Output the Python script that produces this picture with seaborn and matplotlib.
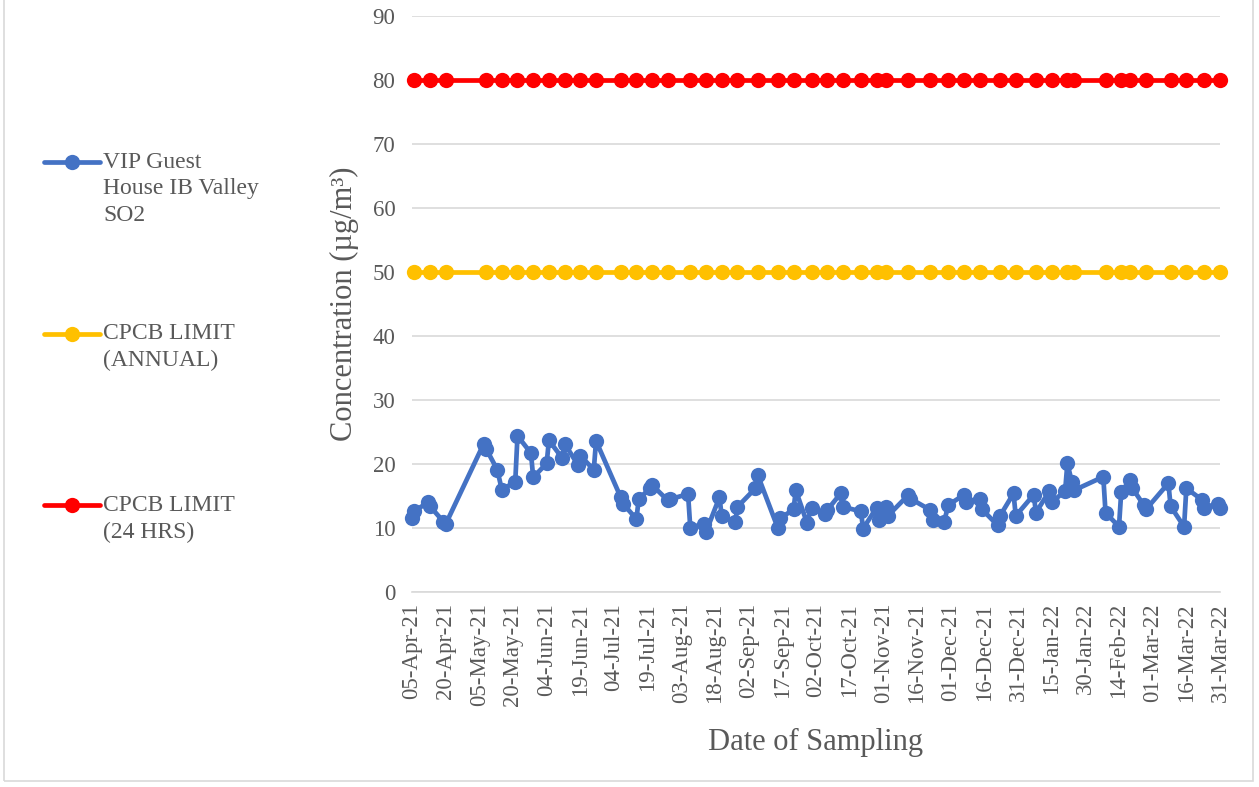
import pandas as pd
import matplotlib.pyplot as plt
import seaborn as sns
from matplotlib.lines import Line2D
from matplotlib.patches import Rectangle

# SO2 readings (µg/m³), twice a week
so2_dates = [
    "05-Apr-21", "06-Apr-21", "12-Apr-21", "13-Apr-21", "19-Apr-21", "20-Apr-21",
    "07-May-21", "08-May-21", "13-May-21", "15-May-21", "21-May-21", "22-May-21", "28-May-21", "29-May-21",
    "04-Jun-21", "05-Jun-21", "11-Jun-21", "12-Jun-21", "18-Jun-21", "19-Jun-21", "25-Jun-21", "26-Jun-21",
    "07-Jul-21", "08-Jul-21", "14-Jul-21", "15-Jul-21", "20-Jul-21", "21-Jul-21", "28-Jul-21", "29-Jul-21",
    "06-Aug-21", "07-Aug-21", "13-Aug-21", "14-Aug-21", "20-Aug-21", "21-Aug-21", "27-Aug-21", "28-Aug-21",
    "05-Sep-21", "06-Sep-21", "15-Sep-21", "16-Sep-21", "22-Sep-21", "23-Sep-21", "28-Sep-21", "30-Sep-21",
    "06-Oct-21", "07-Oct-21", "13-Oct-21", "14-Oct-21", "22-Oct-21", "23-Oct-21", "29-Oct-21", "30-Oct-21",
    "02-Nov-21", "03-Nov-21", "12-Nov-21", "13-Nov-21", "22-Nov-21", "23-Nov-21", "28-Nov-21",
    "30-Nov-21", "07-Dec-21", "08-Dec-21", "14-Dec-21", "15-Dec-21", "22-Dec-21", "23-Dec-21", "29-Dec-21", "30-Dec-21",
    "07-Jan-22", "08-Jan-22", "14-Jan-22", "15-Jan-22", "21-Jan-22", "22-Jan-22", "24-Jan-22", "25-Jan-22",
    "07-Feb-22", "08-Feb-22", "14-Feb-22", "15-Feb-22", "19-Feb-22", "20-Feb-22", "25-Feb-22", "26-Feb-22",
    "08-Mar-22", "09-Mar-22", "15-Mar-22", "16-Mar-22", "23-Mar-22", "24-Mar-22", "30-Mar-22", "31-Mar-22",
]
so2_values = [
    11.5, 12.6, 14.0, 13.4, 11.0, 10.6,
    23.2, 22.4, 19.1, 16.0, 17.2, 24.4, 21.7, 17.9,
    20.1, 23.7, 20.9, 23.2, 19.8, 21.3, 19.1, 23.6,
    14.8, 13.8, 11.4, 14.5, 16.2, 16.7, 14.3, 14.5,
    15.3, 10.0, 10.7, 9.4, 14.8, 11.8, 10.9, 13.3,
    16.2, 18.3, 10.0, 11.5, 12.9, 15.9, 10.8, 13.2,
    12.2, 12.8, 15.4, 13.3, 12.6, 9.9, 13.2, 11.3,
    13.3, 11.9, 15.1, 14.6, 12.8, 11.3, 10.9,
    13.6, 15.2, 14.1, 14.6, 12.9, 10.4, 11.9, 15.4, 11.9,
    15.2, 12.4, 15.8, 14.0, 15.8, 20.1, 17.2, 15.9,
    18.0, 12.4, 10.2, 15.7, 17.5, 16.2, 13.6, 12.9,
    17.0, 13.4, 10.2, 16.2, 14.4, 13.2, 13.8, 13.2,
]

# CPCB limits plotted on a weekly set of dates
limit_dates = [
    "06-Apr-21", "13-Apr-21", "20-Apr-21", "08-May-21", "15-May-21", "22-May-21", "29-May-21",
    "05-Jun-21", "12-Jun-21", "19-Jun-21", "26-Jun-21", "07-Jul-21", "14-Jul-21", "21-Jul-21", "28-Jul-21",
    "07-Aug-21", "14-Aug-21", "21-Aug-21", "28-Aug-21", "06-Sep-21", "15-Sep-21", "22-Sep-21", "30-Sep-21",
    "07-Oct-21", "14-Oct-21", "22-Oct-21", "29-Oct-21", "02-Nov-21", "12-Nov-21", "22-Nov-21", "30-Nov-21",
    "07-Dec-21", "14-Dec-21", "23-Dec-21", "30-Dec-21", "08-Jan-22", "15-Jan-22", "22-Jan-22", "25-Jan-22",
    "08-Feb-22", "15-Feb-22", "19-Feb-22", "26-Feb-22", "09-Mar-22", "16-Mar-22", "24-Mar-22", "31-Mar-22",
]
annual_limit = 50
daily_limit = 80

series_labels = ["VIP Guest\nHouse IB Valley\nSO2", "CPCB LIMIT\n(ANNUAL)", "CPCB LIMIT\n(24 HRS)"]
series_colors = ["#4472C4", "#FFC000", "#FF0000"]

sns.set_style("white")
plt.rcParams['font.family'] = ['Liberation Serif', 'DejaVu Serif']
text_color = "#595959"

df_so2 = pd.DataFrame({"date": pd.to_datetime(so2_dates, format="%d-%b-%y"), "value": so2_values})
df_lim = pd.DataFrame({"date": pd.to_datetime(limit_dates, format="%d-%b-%y")})
df_lim["annual"] = annual_limit
df_lim["daily"] = daily_limit

W, H = 1259, 787
fig = plt.figure(figsize=(W / 100, H / 100), dpi=100)
ax = fig.add_axes([412 / W, 1 - 592 / H, 808 / W, 576 / H])

style = dict(marker="o", markersize=11, linewidth=3.4, markeredgewidth=0, clip_on=False)
sns.lineplot(data=df_so2, x="date", y="value", color=series_colors[0], ax=ax, **style)
sns.lineplot(data=df_lim, x="date", y="annual", color=series_colors[1], ax=ax, **style)
sns.lineplot(data=df_lim, x="date", y="daily", color=series_colors[2], ax=ax, **style)

# axes
start, end = pd.Timestamp("2021-04-05"), pd.Timestamp("2022-03-31")
ticks = pd.date_range(start, end, freq="15D")
ax.set_xlim(start, end)
ax.set_xticks(ticks)
ax.set_xticklabels([t.strftime("%d-%b-%y") for t in ticks], rotation=90)
ax.set_ylim(0, 90)
ax.set_yticks(range(0, 91, 10))
ax.tick_params(axis="x", length=5, width=1, color="#bfbfbf", labelsize=16.5, labelcolor=text_color, pad=3)
ax.tick_params(axis="y", length=0, labelsize=16.5, labelcolor=text_color, pad=12)
ax.grid(axis="y", color="#d9d9d9", linewidth=1.2)
ax.set_axisbelow(True)
for side in ["top", "right", "left"]:
    ax.spines[side].set_visible(False)
ax.spines["bottom"].set_color("#d9d9d9")
ax.spines["bottom"].set_linewidth(1.2)
ax.set_xlabel("Date of Sampling", fontsize=22, color=text_color, labelpad=16)
ax.set_ylabel("Concentration (µg/m³)", fontsize=22, color=text_color, labelpad=10)

# legend on the left, entries spaced evenly
for i, (lab, col) in enumerate(zip(series_labels, series_colors)):
    y = 1 - (162 + 171.5 * i) / H
    fig.add_artist(Line2D([44 / W, 100 / W], [y, y], color=col, linewidth=3.4))
    fig.add_artist(Line2D([72 / W], [y], color=col, marker="o", markersize=11, markeredgewidth=0))
    fig.text(103 / W, y + 10 / H, lab, fontsize=17, color=text_color, va="top", ha="left", linespacing=1.34)

# chart border
fig.add_artist(Rectangle((4 / W, 6 / H), 1249 / W, 1.0, transform=fig.transFigure,
                         fill=False, edgecolor="#d9d9d9", linewidth=1.2))

fig.savefig("out.png", dpi=100)
